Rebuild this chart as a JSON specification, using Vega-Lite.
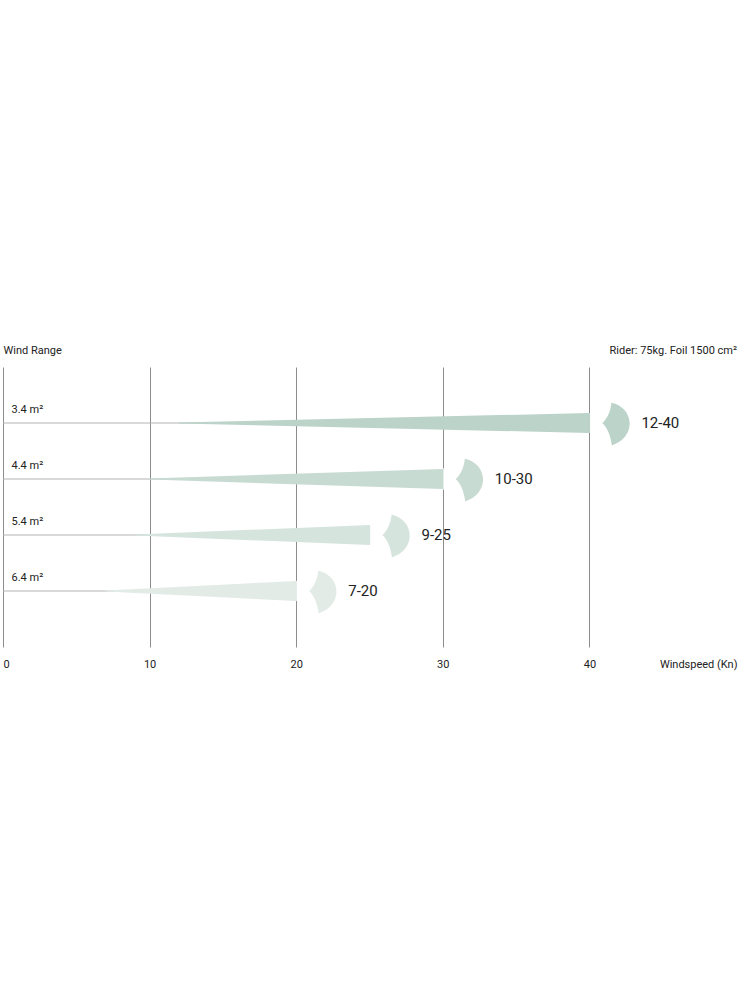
{
  "$schema": "https://vega.github.io/schema/vega-lite/v6.json",
  "width": 733,
  "height": 280,
  "padding": {"left": 2, "top": 344, "right": 5, "bottom": 5},
  "background": "white",
  "config": {
    "font": "Roboto",
    "view": {"stroke": null},
    "axisX": {
      "grid": true, "gridColor": "#8c8c8c", "gridWidth": 1, "zindex": 1,
      "domain": false, "ticks": false, "labelPadding": 11, "labelFontSize": 11, "labelColor": "#222",
      "titleFontWeight": "normal", "titleFontSize": 11, "titleColor": "#222",
      "titleAnchor": "end", "titleAlign": "right", "titleX": 734, "titleY": 20, "titleBaseline": "alphabetic"
    }
  },
  "title": {"text": "Rider: 75kg. Foil 1500 cm²", "anchor": "end", "fontSize": 11, "fontWeight": "normal", "color": "#222", "offset": -12},
  "datasets": {
    "kites": [
      {"kite": "3.4 m²", "min": 12, "max": 40, "range": "12-40"},
      {"kite": "4.4 m²", "min": 10, "max": 30, "range": "10-30"},
      {"kite": "5.4 m²", "min": 9, "max": 25, "range": "9-25"},
      {"kite": "6.4 m²", "min": 7, "max": 20, "range": "7-20"}
    ],
    "wedges": [
      {"kite": "3.4 m²", "speed": 12, "end": "min"},
      {"kite": "3.4 m²", "speed": 40, "end": "max"},
      {"kite": "4.4 m²", "speed": 10, "end": "min"},
      {"kite": "4.4 m²", "speed": 30, "end": "max"},
      {"kite": "5.4 m²", "speed": 9, "end": "min"},
      {"kite": "5.4 m²", "speed": 25, "end": "max"},
      {"kite": "6.4 m²", "speed": 7, "end": "min"},
      {"kite": "6.4 m²", "speed": 20, "end": "max"}
    ]
  },
  "encoding": {
    "y": {
      "field": "kite", "type": "nominal",
      "scale": {"type": "point", "padding": 1},
      "axis": {
        "title": "Wind Range", "titleAngle": 0, "titleAlign": "left", "titleX": 0, "titleY": -14,
        "titleBaseline": "alphabetic", "titleFontWeight": "normal", "titleFontSize": 11, "titleColor": "#222",
        "labelAlign": "left", "labelPadding": -8, "labelBaseline": "alphabetic", "labelOffset": -11,
        "labelFontSize": 11, "labelColor": "#222", "ticks": false, "domain": false, "grid": false
      }
    }
  },
  "layer": [
    {
      "data": {"name": "kites"},
      "mark": {"type": "rule", "color": "#b3b3b3", "strokeWidth": 1},
      "encoding": {
        "x": {"field": "max", "type": "quantitative", "scale": {"domain": [0, 50]}, "title": "Windspeed (Kn)",
          "axis": {"values": [0, 10, 20, 30, 40]}},
        "x2": {"datum": 0}
      }
    },
    {
      "data": {"name": "wedges"},
      "mark": {"type": "trail"},
      "encoding": {
        "x": {"field": "speed", "type": "quantitative", "title": "Windspeed (Kn)", "axis": {"values": [0, 10, 20, 30, 40]}},
        "size": {"field": "end", "type": "ordinal", "scale": {"domain": ["min", "max"], "range": [0, 20]}, "legend": null},
        "color": {"field": "kite", "type": "nominal", "scale": {"range": ["#bbd3c8", "#c8dbd2", "#d6e4de", "#e3ebe7"]}, "legend": null}
      }
    },
    {
      "data": {"name": "kites"},
      "mark": {"type": "point", "filled": true, "opacity": 1, "size": 484, "color": "white",
        "shape": "M0.06,-1 L1.1,-1 L1.1,1 L0.06,1 Z"},
      "encoding": {
        "x": {"field": "max", "type": "quantitative", "title": "Windspeed (Kn)", "axis": {"values": [0, 10, 20, 30, 40]}}
      }
    },
    {
      "data": {"name": "kites"},
      "mark": {"type": "point", "filled": true, "opacity": 1, "size": 1936,
        "shape": "M0.59,0 C0.82,-0.2 0.97,-0.55 1.0,-0.92 C1.5,-0.82 1.84,-0.42 1.83,0.05 C1.81,0.52 1.5,0.86 1.02,1.02 C0.97,0.6 0.82,0.22 0.59,0 Z"},
      "encoding": {
        "x": {"field": "max", "type": "quantitative", "title": "Windspeed (Kn)", "axis": {"values": [0, 10, 20, 30, 40]}},
        "color": {"field": "kite", "type": "nominal", "legend": null}
      }
    },
    {
      "data": {"name": "kites"},
      "mark": {"type": "text", "align": "left", "baseline": "middle", "dx": 52, "fontSize": 15, "color": "#222"},
      "encoding": {
        "x": {"field": "max", "type": "quantitative", "title": "Windspeed (Kn)", "axis": {"values": [0, 10, 20, 30, 40]}},
        "text": {"field": "range"}
      }
    }
  ]
}
